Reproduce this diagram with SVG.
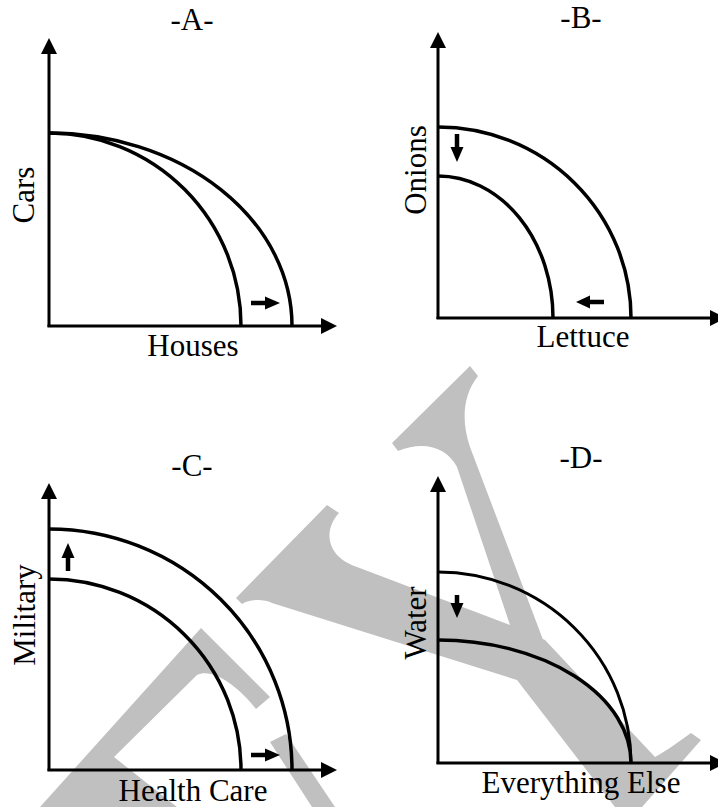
<svg xmlns="http://www.w3.org/2000/svg" width="718" height="807" viewBox="0 0 718 807">
<style>
.wm{fill:#c0c0c0;stroke:none}
.ax{stroke:#000;stroke-width:3;fill:none}
.cv{stroke:#000;stroke-width:3.5;fill:none}
.thin{stroke:#000;stroke-width:3;fill:none}
.sh{stroke:#000;stroke-width:4.5;fill:none}
.hd{fill:#000}
</style>
<rect width="718" height="807" fill="#fff"/>
<g id="watermark">
<path class="wm" d="M392,443 L470,366 L478,376 C463,395 461,420 470,447 L545,645 L515,640 L457,467 C447,448 425,440 398,451 Z"/>
<path class="wm" d="M236,598 L327,505 L339,513 C323,530 326,557 357,567 L515,627 L545,645 L517,680 L272,603 C262,598 248,600 242,604 Z"/>
<path class="wm" d="M515,627 L545,640 L655,757 C668,750 681,740 691,733 L701,740 L642,807 L615,807 L517,680 Z"/>
<path class="wm" d="M201,628 L270,697 L256,709 C236,684 212,668 197,675 L114,757 L177,807 L40,807 Z"/>
<path class="wm" d="M270,742 L286,734 L335,807 L312,807 Z"/>
</g>
<g id="panelA" font-family="Liberation Serif, Times New Roman, Times, serif" font-size="31" fill="#000">
<text x="192" y="30" text-anchor="middle">-A-</text>
<line class="ax" x1="49" y1="327" x2="49" y2="50"/>
<polygon class="hd" points="49,38 41,54 57,54"/>
<line class="ax" x1="47.5" y1="326" x2="325" y2="326"/>
<polygon class="hd" points="337,326 321,318 321,334"/>
<path class="cv" d="M49,133 A243,193 0 0 1 292,326"/>
<path class="cv" d="M49,133 A192,193 0 0 1 241,326"/>
<line class="sh" x1="251" y1="303" x2="268" y2="303"/>
<polygon class="hd" points="280,303 265,296.5 265,309.5"/>
<text x="193" y="356" text-anchor="middle">Houses</text>
<text transform="translate(34,195) rotate(-90)" text-anchor="middle">Cars</text>
</g>
<g id="panelB" font-family="Liberation Serif, Times New Roman, Times, serif" font-size="31" fill="#000">
<text x="581" y="28" text-anchor="middle">-B-</text>
<line class="ax" x1="438" y1="319" x2="438" y2="45"/>
<polygon class="hd" points="438,32 430,48 446,48"/>
<line class="ax" x1="436.5" y1="318" x2="712" y2="318"/>
<polygon class="hd" points="726,318 710,310 710,326"/>
<path class="cv" d="M438,127 A193,191 0 0 1 631,318"/>
<path class="cv" d="M438,176 A115,142 0 0 1 553,318"/>
<line class="sh" x1="457" y1="134" x2="457" y2="150"/>
<polygon class="hd" points="457,162 450.5,147 463.5,147"/>
<line class="sh" x1="604" y1="302" x2="588" y2="302"/>
<polygon class="hd" points="576,302 590,295.5 590,308.5"/>
<text x="583" y="347" text-anchor="middle">Lettuce</text>
<text transform="translate(426,170) rotate(-90)" text-anchor="middle">Onions</text>
</g>
<g id="panelC" font-family="Liberation Serif, Times New Roman, Times, serif" font-size="31" fill="#000">
<text x="192" y="476" text-anchor="middle">-C-</text>
<line class="ax" x1="49" y1="771" x2="49" y2="495"/>
<polygon class="hd" points="49,483 41,499 57,499"/>
<line class="ax" x1="47.5" y1="770" x2="325" y2="770"/>
<polygon class="hd" points="337,770 321,762 321,778"/>
<path class="cv" d="M49,529 A243,241 0 0 1 292,770"/>
<path class="cv" d="M49,579 A192,191 0 0 1 241,770"/>
<line class="sh" x1="68" y1="571" x2="68" y2="555"/>
<polygon class="hd" points="68,543 61.5,558 74.5,558"/>
<line class="sh" x1="251" y1="755" x2="268" y2="755"/>
<polygon class="hd" points="280,755 265,748.5 265,761.5"/>
<text x="193" y="801" text-anchor="middle">Health Care</text>
<text transform="translate(35,615) rotate(-90)" text-anchor="middle">Military</text>
</g>
<g id="panelD" font-family="Liberation Serif, Times New Roman, Times, serif" font-size="31" fill="#000">
<text x="581" y="468" text-anchor="middle">-D-</text>
<line class="ax" x1="438" y1="764" x2="438" y2="488"/>
<polygon class="hd" points="438,476 430,492 446,492"/>
<line class="ax" x1="436.5" y1="763" x2="712" y2="763"/>
<polygon class="hd" points="726,763 710,755 710,771"/>
<path class="thin" d="M438,572 A193,191 0 0 1 631,763"/>
<path class="cv" d="M438,640 A193,123 0 0 1 631,763"/>
<line class="sh" x1="457" y1="595" x2="457" y2="606"/>
<polygon class="hd" points="457,618 450.5,603 463.5,603"/>
<text x="581" y="793" text-anchor="middle">Everything Else</text>
<text transform="translate(426,623) rotate(-90)" text-anchor="middle">Water</text>
</g>
</svg>
